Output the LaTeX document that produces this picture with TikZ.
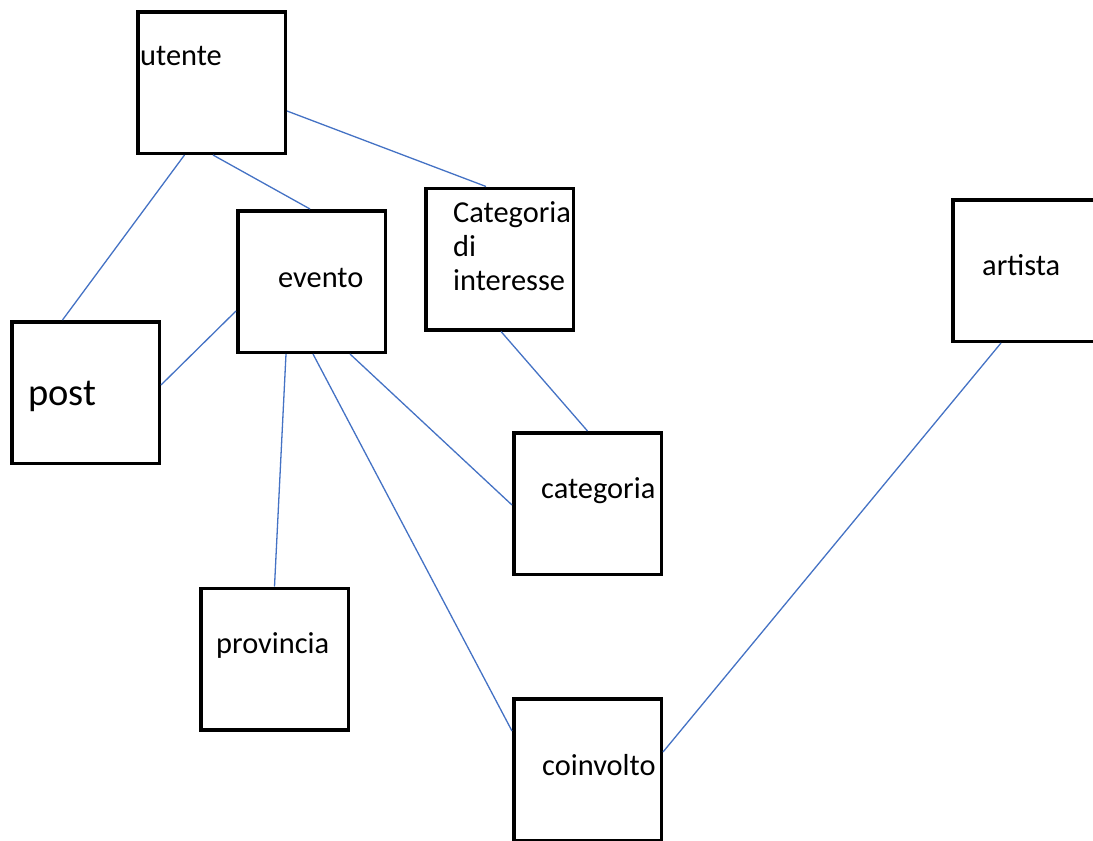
\documentclass[tikz,border=0pt]{standalone}
\usepackage{fontspec}
\setmainfont{Carlito}
\usepackage{xcolor}
\usepackage{tikz}
\definecolor{linea}{HTML}{4472C4}

\begin{document}
\begin{tikzpicture}[x=1pt, y=-1pt,
    box/.style={draw, line width=3.5pt, minimum width=147.5pt, minimum height=141.5pt, inner sep=0pt},
    link/.style={draw, color=linea, line width=1.3pt},
    lbl/.style={anchor=base west, inner sep=0pt, font=\fontsize{30.4}{34}\selectfont}]
        \useasboundingbox (0,0) rectangle (1093,841);
        \clip (0,0) rectangle (1093,841);
        % Riquadri
        \node[box] (utente) at (211.5,82.5) {};
        \node[box] (evento) at (311.5,281.5) {};
        \node[box] (catint) at (499.5,259) {};
        \node[box] (post) at (85.5,392.5) {};
        \node[box] (categoria) at (587.5,503.5) {};
        \node[box] (artista) at (1026.5,270.5) {};
        \node[box] (provincia) at (274.5,659) {};
        \node[box] (coinvolto) at (587.5,769.5) {};
        % Testi
        \node[lbl] (utente-txt) at (140,65) {utente};
        \node[lbl] (evento-txt) at (278,287) {evento};
        \node[lbl, align=left] (catint-txt) at (453,290) {Categoria\\di\\interesse};
        \node[lbl, font=\fontsize{38.5}{44}\selectfont] (post-txt) at (28,405) {post};
        \node[lbl] (categoria-txt) at (541,498) {categoria};
        \node[lbl] (artista-txt) at (982,275) {artista};
        \node[lbl] (provincia-txt) at (216,653) {provincia};
        \node[lbl] (coinvolto-txt) at (542,775) {coinvolto};
        % Collegamenti
        \draw[link] ([xshift=-27pt]utente.south) -- ([xshift=-23pt]post.north);
        \draw[link] ([xshift=1.5pt]utente.south) -- ([xshift=-1.5pt]evento.north);
        \draw[link] ([yshift=-28.5pt]utente.east) -- ([xshift=-13.5pt]catint.north);
        \draw[link] ([yshift=-29.5pt]evento.west) -- ([yshift=7.5pt]post.east);
        \draw[link] ([xshift=-25.5pt]evento.south) -- (provincia.north);
        \draw[link] ([xshift=1.5pt]evento.south) -- ([yshift=38.5pt]coinvolto.west);
        \draw[link] ([xshift=38.5pt]evento.south) -- ([yshift=-1.5pt]categoria.west);
        \draw[link] ([xshift=1.5pt]catint.south) -- (categoria.north);
        \draw[link] ([xshift=-25.5pt]artista.south) -- ([yshift=17.5pt]coinvolto.east);
    \end{tikzpicture}
\end{document}
